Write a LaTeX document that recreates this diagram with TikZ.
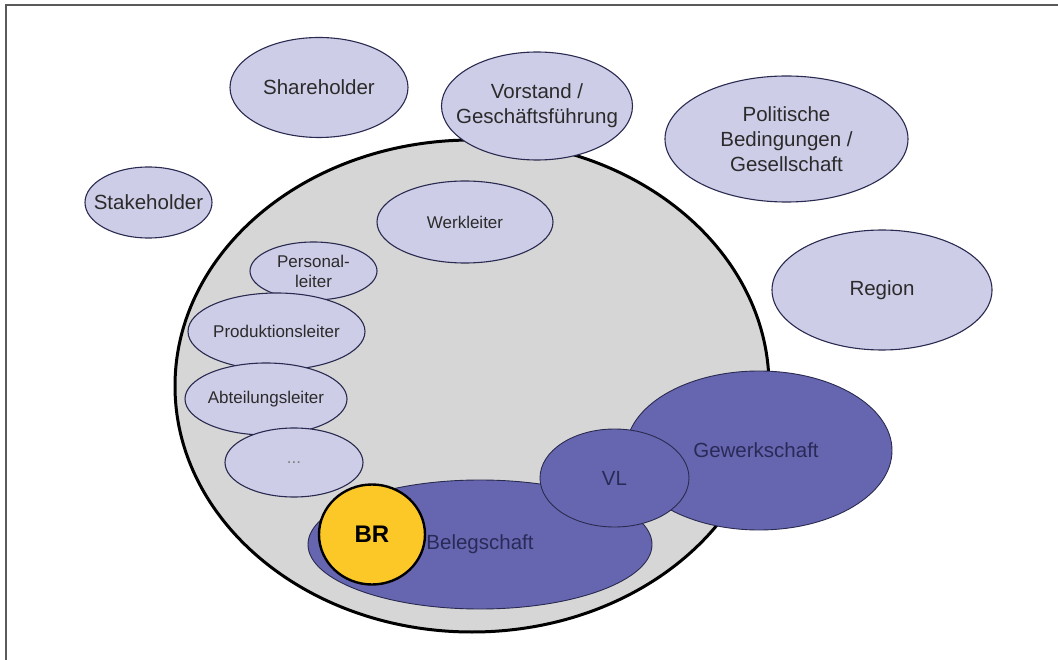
\documentclass[tikz,border=0pt]{standalone}
\usepackage{fontspec}
\setmainfont{Liberation Sans}
\usepackage{tikz}
\definecolor{RingGray}{HTML}{D6D6D6}
\definecolor{PartyLilac}{HTML}{CDCDE8}
\definecolor{UnionBlue}{HTML}{6666B0}
\definecolor{CouncilGold}{HTML}{FCC828}
\definecolor{EdgeNavy}{HTML}{2A2A50}
\definecolor{TextGray}{HTML}{2B2B2B}
\definecolor{TextNavy}{HTML}{2A2A58}
\definecolor{FrameGray}{HTML}{5A5A5A}

\tikzset{
  lilac/.style={fill=PartyLilac, draw=EdgeNavy, line width=1.1pt},
  union/.style={fill=UnionBlue, draw=EdgeNavy, line width=0.9pt},
  bigtext/.style={font=\fontsize{20.5}{25}\selectfont, text=TextGray, align=center, inner sep=0pt},
  smalltext/.style={font=\fontsize{17}{20}\selectfont, text=TextGray, align=center, inner sep=0pt},
}

\begin{document}
\begin{tikzpicture}[x=1pt,y=-1pt]
    \useasboundingbox (0,0) rectangle (1058,660);
    \draw[FrameGray, line width=1.6pt] (6,660) -- (6,5) -- (1058,5);

    \coordinate (Stake) at (148.5,202.5);
    \coordinate (Share) at (319,87.5);
    \coordinate (Firm) at (472,386);
    \coordinate (Board) at (537,106);
    \coordinate (Policy) at (786.5,139);
    \coordinate (Region) at (882,290);
    \coordinate (Plant) at (465,222);
    \coordinate (HR) at (313.5,271);
    \coordinate (Prod) at (276.5,331.5);
    \coordinate (Dept) at (266,399);
    \coordinate (More) at (294,462.5);
    \coordinate (Union) at (759,450.5);
    \coordinate (Staff) at (480,544.5);
    \coordinate (VL) at (614.5,478);
    \coordinate (BR) at (372,534.5);

    % outside the company
    \draw[lilac] (Stake) ellipse (63.5 and 35.5);
    \draw[lilac] (Share) ellipse (89 and 50);

    % the company
    \draw[fill=RingGray, draw=black, line width=3pt] (Firm) ellipse (297 and 246);

    \draw[lilac] (Board) ellipse (95.5 and 54);
    \draw[lilac] (Policy) ellipse (121.5 and 63);
    \draw[lilac] (Region) ellipse (110 and 60);

    \draw[lilac] (Plant) ellipse (88 and 41);
    \draw[lilac] (HR) ellipse (63.5 and 29);
    \draw[lilac] (Prod) ellipse (88.5 and 38.5);
    \draw[lilac] (Dept) ellipse (81 and 36);
    \draw[lilac] (More) ellipse (69 and 34.5);

    % workforce side
    \draw[union] (Union) ellipse (133 and 79.5);
    \draw[union] (Staff) ellipse (172 and 64.5);
    \draw[union] (VL) ellipse (74.5 and 49);
    \draw[fill=CouncilGold, draw=black, line width=2.4pt] (BR) ellipse (53 and 50);

    \node[bigtext] (stakeT) at (Stake) {Stakeholder};
    \node[bigtext] (shareT) at (Share) {Shareholder};
    \node[bigtext] (boardT) at (Board) {Vorstand /\\Geschäftsführung};
    \node[bigtext] (policyT) at (Policy) {Politische\\Bedingungen /\\Gesellschaft};
    \node[bigtext] (regionT) at (Region) {Region};
    \node[smalltext] (plantT) at (Plant) {Werkleiter};
    \node[smalltext] (hrT) at (HR) {Personal-\\leiter};
    \node[smalltext] (prodT) at (Prod) {Produktionsleiter};
    \node[smalltext] (deptT) at (Dept) {Abteilungsleiter};
    \node[smalltext, text=gray] (moreT) at (More) {...};
    \node[bigtext, text=TextNavy] (unionT) at (756,450) {Gewerkschaft};
    \node[bigtext, text=TextNavy] (staffT) at (Staff) {Belegschaft};
    \node[bigtext, text=TextNavy] (vlT) at (VL) {VL};
    \node[font=\fontsize{24}{28}\selectfont\bfseries, inner sep=0pt] (brT) at (BR) {BR};
\end{tikzpicture}
\end{document}
